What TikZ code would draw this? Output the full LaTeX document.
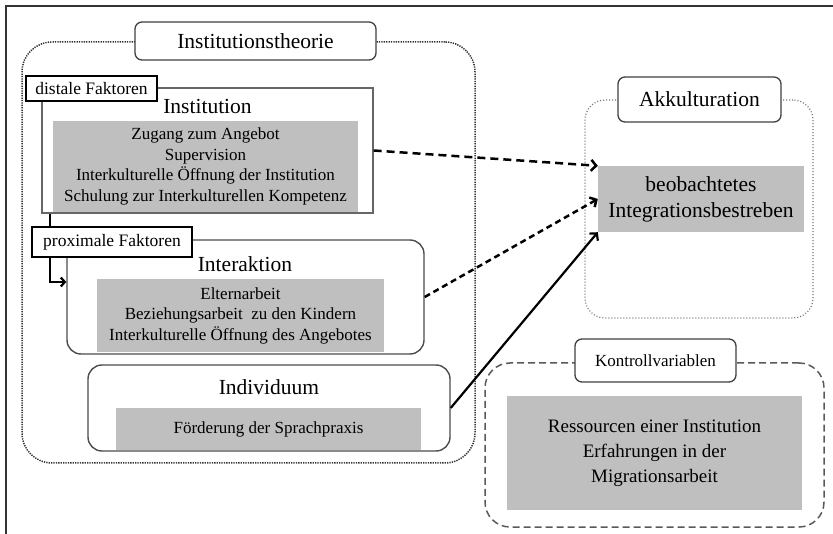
\documentclass[tikz,border=0pt]{standalone}
\usepackage{fontspec}
\setmainfont{Liberation Serif}
\usetikzlibrary{arrows.meta}
\pgfdeclarelayer{background}
\pgfsetlayers{background,main}

\begin{document}
\begin{tikzpicture}[x=1pt,y=-1pt,
  groupbox/.style={line width=1.5pt,inner sep=0pt},
  tabbox/.style={draw=black!75,line width=1.3pt,fill=white,rounded corners=7pt,inner sep=0pt},
  factorbox/.style={draw=black,line width=2.2pt,fill=white,inner sep=0pt,font=\fontsize{17.5}{20}\selectfont},
  levelbox/.style={draw=black!70,line width=1.4pt,fill=white,rounded corners=14pt,inner sep=0pt},
  itembox/.style={fill=black!25,inner sep=0pt,align=center},
  headfont/.style={font=\fontsize{21.5}{26}\selectfont},
  smallfont/.style={font=\fontsize{17}{20.5}\selectfont},
  effectline/.style={line width=2.5pt,-{Straight Barb[length=5pt,width=11pt]}}
]
\useasboundingbox (0,0) rectangle (833,534);
\draw[line width=1.5pt,black!80] (833,6) -- (6,6) -- (6,534);

% Institutionstheorie
\node[groupbox,draw=black!80,dash pattern=on 1.3pt off 1.1pt,rounded corners=30pt,minimum width=453pt,minimum height=421pt] (theorie) at (248.5,252.5) {};
\node[tabbox,minimum width=241pt,minimum height=38pt,headfont] (theorietab) at (255.5,41) {Institutionstheorie};

% Institution
\node[draw=black!60,line width=1.2pt,fill=white,inner sep=0pt,minimum width=331pt,minimum height=125pt] (institution) at (207.5,150.5) {};
\node[headfont] (institutiontitle) at (207.5,106) {Institution};
\node[itembox,smallfont,minimum width=305pt,minimum height=91pt] (institutionitems) at (205.5,166.5) {Zugang zum Angebot\\Supervision\\Interkulturelle Öffnung der Institution\\Schulung zur Interkulturellen Kompetenz};
\node[factorbox,minimum width=131pt,minimum height=25pt] (distale) at (91.5,88.5) {distale Faktoren};

% Interaktion
\node[levelbox,minimum width=357pt,minimum height=114pt] (interaktion) at (245.5,297) {};
\node[headfont] (interaktiontitle) at (245,264) {Interaktion};
\node[itembox,smallfont,minimum width=287pt,minimum height=73pt] (interaktionitems) at (240.5,315.5) {Elternarbeit\\Beziehungsarbeit\ \ zu den Kindern\\Interkulturelle Öffnung des Angebotes};
\node[factorbox,minimum width=160pt,minimum height=30pt] (proximale) at (112,242) {proximale Faktoren};
\draw[line width=2.2pt,-{Straight Barb[length=4pt,width=9pt]}] ([xshift=19pt]proximale.south west) |- ([yshift=15pt]interaktion.west);
\begin{pgfonlayer}{background}
\draw[line width=2.2pt] ([xshift=25pt]distale.south west) -- ([xshift=19pt]proximale.north west);
\end{pgfonlayer}

% Individuum
\node[levelbox,minimum width=362pt,minimum height=86pt] (individuum) at (269,408) {};
\node[headfont] (individuumtitle) at (269,387) {Individuum};
\node[itembox,smallfont,minimum width=305pt,minimum height=42pt] (individuumitems) at (268.5,429) {Förderung der Sprachpraxis};

% Akkulturation
\node[groupbox,draw=black!55,line width=1.2pt,dash pattern=on 1pt off 2pt,rounded corners=20pt,minimum width=228pt,minimum height=218pt] (akkulturation) at (699,209) {};
\node[tabbox,minimum width=163pt,minimum height=45pt,headfont] (akkulturationtab) at (699.5,99.5) {Akkulturation};
\node[itembox,headfont,minimum width=206pt,minimum height=66pt] (beobachtet) at (701,199) {beobachtetes\\Integrationsbestreben};

% Kontrollvariablen
\node[groupbox,draw=black!65,dash pattern=on 7pt off 4pt,rounded corners=25pt,minimum width=339pt,minimum height=164pt] (kontrolle) at (654.5,445) {};
\node[tabbox,smallfont,minimum width=161pt,minimum height=43pt] (kontrolletab) at (655.5,360.5) {Kontrollvariablen};
\node[itembox,font=\fontsize{19}{25}\selectfont,minimum width=295pt,minimum height=114pt] (kontrolleitems) at (654.5,453) {Ressourcen einer Institution\\Erfahrungen in der\\Migrationsarbeit};

\draw[effectline,dash pattern=on 8pt off 5pt] (institution.east) -- (beobachtet.north west);
\draw[effectline,dash pattern=on 6pt off 4pt] (interaktion.east) -- (beobachtet.west);
\draw[effectline,line width=2.2pt] (individuum.east) -- (beobachtet.south west);
\end{tikzpicture}
\end{document}
